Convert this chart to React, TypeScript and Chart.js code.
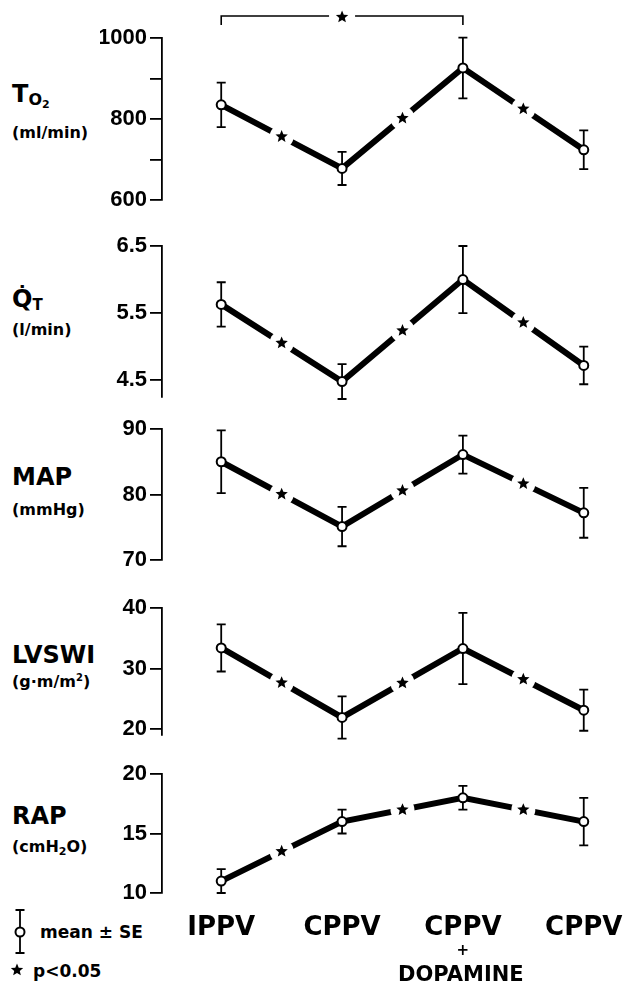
import React, { useEffect, useRef } from "react";
import { Chart, registerables } from "chart.js";

Chart.register(...registerables);

// ---------------- DATA ----------------
const categories = ["IPPV", "CPPV", "CPPV", "CPPV"];
const thirdCategoryExtra = ["+", "DOPAMINE"];

const to2Mean = [835, 678, 926, 724];
const to2SE = [55, 41, 75, 48];
const to2Range = [600, 1000];
const to2Ticks = [600, 700, 800, 900, 1000];
const to2TickLabels = ["600", "", "800", "", "1000"];
const to2Sig = [true, true, true];
const to2Bracket = [0, 2];

const qtMean = [5.63, 4.48, 6.0, 4.72];
const qtSE = [0.33, 0.26, 0.5, 0.28];
const qtRange = [4.25, 6.5];
const qtTicks = [4.5, 5.5, 6.5];
const qtTickLabels = ["4.5", "5.5", "6.5"];
const qtSig = [true, true, true];

const mapMean = [85.0, 75.1, 86.1, 77.2];
const mapSE = [4.8, 3.0, 2.9, 3.8];
const mapRange = [70, 90];
const mapTicks = [70, 80, 90];
const mapTickLabels = ["70", "80", "90"];
const mapSig = [true, true, true];

const lvswiMean = [33.4, 21.9, 33.3, 23.1];
const lvswiSE = [3.9, 3.5, 5.9, 3.4];
const lvswiRange = [19, 40];
const lvswiTicks = [20, 30, 40];
const lvswiTickLabels = ["20", "30", "40"];
const lvswiSig = [true, true, true];

const rapMean = [11.0, 16.0, 18.0, 16.0];
const rapSE = [1.0, 1.0, 1.0, 2.0];
const rapRange = [10, 20];
const rapTicks = [10, 15, 20];
const rapTickLabels = ["10", "15", "20"];
const rapSig = [true, true, true];

// ---------------- LAYOUT ----------------
const W = 627;
const H = 986;
const AXIS_X = 162;
const Y_AXIS_W = 62;
const X_MIN = -0.49;
const X_MAX = 3.3;
const RIGHT_PAD = W - 620;
const PAD = 30;
const LAST_PAD_TOP = 34;

const TEXT_FONT = "'DejaVu Sans', sans-serif";
const TICK_FONT = "'Liberation Sans', 'Arial', sans-serif";

type Panel = {
  mean: number[];
  se: number[];
  range: number[];
  ticks: number[];
  tickLabels: string[];
  sig: boolean[];
  bracket?: number[];
  top: number; // page px of axis max
  bottom: number; // page px of axis min
  last?: boolean;
};

const panels: Panel[] = [
  { mean: to2Mean, se: to2SE, range: to2Range, ticks: to2Ticks, tickLabels: to2TickLabels, sig: to2Sig, bracket: to2Bracket, top: 38, bottom: 200 },
  { mean: qtMean, se: qtSE, range: qtRange, ticks: qtTicks, tickLabels: qtTickLabels, sig: qtSig, top: 246, bottom: 397 },
  { mean: mapMean, se: mapSE, range: mapRange, ticks: mapTicks, tickLabels: mapTickLabels, sig: mapSig, top: 429, bottom: 560 },
  { mean: lvswiMean, se: lvswiSE, range: lvswiRange, ticks: lvswiTicks, tickLabels: lvswiTickLabels, sig: lvswiSig, top: 608, bottom: 735 },
  { mean: rapMean, se: rapSE, range: rapRange, ticks: rapTicks, tickLabels: rapTickLabels, sig: rapSig, top: 774, bottom: 893, last: true },
];

function drawStar(ctx: CanvasRenderingContext2D, cx: number, cy: number, R: number) {
  const r = R * 0.45;
  ctx.beginPath();
  for (let k = 0; k < 10; k++) {
    const ang = -Math.PI / 2 + (k * Math.PI) / 5;
    const rad = k % 2 === 0 ? R : r;
    const px = cx + rad * Math.cos(ang);
    const py = cy + rad * Math.sin(ang);
    if (k === 0) ctx.moveTo(px, py);
    else ctx.lineTo(px, py);
  }
  ctx.closePath();
  ctx.fill();
}

function PanelChart({ p }: { p: Panel }) {
  const ref = useRef<HTMLCanvasElement>(null);
  const canvasTop = p.top - (p.last ? LAST_PAD_TOP : PAD);
  const canvasH = p.last ? H - canvasTop : p.bottom - p.top + 2 * PAD;

  useEffect(() => {
    const deco = {
      id: "deco",
      beforeDatasetsDraw(chart: any) {
        const { ctx } = chart;
        const x = chart.scales.x;
        const y = chart.scales.y;
        ctx.save();
        ctx.strokeStyle = "#000";
        ctx.lineWidth = 1.8;
        p.mean.forEach((m, i) => {
          const px = x.getPixelForValue(i);
          const yt = y.getPixelForValue(m + p.se[i]);
          const yb = y.getPixelForValue(m - p.se[i]);
          ctx.beginPath();
          ctx.moveTo(px, yt);
          ctx.lineTo(px, yb);
          ctx.moveTo(px - 4.5, yt);
          ctx.lineTo(px + 4.5, yt);
          ctx.moveTo(px - 4.5, yb);
          ctx.lineTo(px + 4.5, yb);
          ctx.stroke();
        });
        ctx.restore();
      },
      afterDatasetsDraw(chart: any) {
        const { ctx } = chart;
        const x = chart.scales.x;
        const y = chart.scales.y;
        ctx.save();
        p.sig.forEach((s, i) => {
          if (!s) return;
          const cx = (x.getPixelForValue(i) + x.getPixelForValue(i + 1)) / 2;
          const cy = (y.getPixelForValue(p.mean[i]) + y.getPixelForValue(p.mean[i + 1])) / 2;
          ctx.fillStyle = "#fff";
          ctx.beginPath();
          ctx.arc(cx, cy, 12, 0, Math.PI * 2);
          ctx.fill();
          ctx.fillStyle = "#000";
          drawStar(ctx, cx, cy, 6.5);
        });
        if (p.bracket) {
          const x1 = x.getPixelForValue(p.bracket[0]);
          const x2 = x.getPixelForValue(p.bracket[1]);
          const yb = y.top - 22;
          ctx.strokeStyle = "#000";
          ctx.lineWidth = 1.6;
          ctx.beginPath();
          ctx.moveTo(x1, yb + 9);
          ctx.lineTo(x1, yb);
          ctx.lineTo(x2, yb);
          ctx.lineTo(x2, yb + 9);
          ctx.stroke();
          const cx = (x1 + x2) / 2;
          ctx.fillStyle = "#fff";
          ctx.fillRect(cx - 13, yb - 5, 26, 10);
          ctx.fillStyle = "#000";
          drawStar(ctx, cx, yb + 1, 6.5);
        }
        ctx.restore();
      },
      afterDraw(chart: any) {
        if (!p.last) return;
        const { ctx } = chart;
        const x = chart.scales.x;
        ctx.save();
        ctx.fillStyle = "#000";
        ctx.textAlign = "center";
        ctx.textBaseline = "middle";
        const cx = x.getPixelForValue(2);
        ctx.font = `bold 15px ${TEXT_FONT}`;
        ctx.fillText(thirdCategoryExtra[0], cx, 951 - canvasTop);
        ctx.textBaseline = "alphabetic";
        ctx.font = `bold 21px ${TEXT_FONT}`;
        ctx.fillText(thirdCategoryExtra[1], cx - 2, 981 - canvasTop);
        // legend symbols
        ctx.strokeStyle = "#000";
        ctx.lineWidth = 1.8;
        const lx = 20;
        const t = 910 - canvasTop;
        const b = 953 - canvasTop;
        const c = 932 - canvasTop;
        ctx.beginPath();
        ctx.moveTo(lx, t);
        ctx.lineTo(lx, b);
        ctx.moveTo(lx - 4.5, t);
        ctx.lineTo(lx + 4.5, t);
        ctx.moveTo(lx - 4.5, b);
        ctx.lineTo(lx + 4.5, b);
        ctx.stroke();
        ctx.fillStyle = "#fff";
        ctx.lineWidth = 2;
        ctx.beginPath();
        ctx.arc(lx, c, 4.5, 0, Math.PI * 2);
        ctx.fill();
        ctx.stroke();
        ctx.fillStyle = "#000";
        drawStar(ctx, 17, 970 - canvasTop, 6.5);
        ctx.restore();
      },
    };

    const chart = new Chart(ref.current as HTMLCanvasElement, {
      type: "line",
      data: {
        datasets: [
          {
            data: p.mean.map((v, i) => ({ x: i, y: v })),
            borderColor: "#000",
            borderWidth: 6,
            borderCapStyle: "butt",
            pointRadius: 4.5,
            pointBackgroundColor: "#fff",
            pointBorderColor: "#000",
            pointBorderWidth: 2,
            tension: 0,
            clip: false,
          } as any,
        ],
      },
      options: {
        animation: false,
        responsive: false,
        devicePixelRatio: 1,
        events: [],
        layout: {
          padding: {
            left: AXIS_X - Y_AXIS_W,
            right: RIGHT_PAD,
            top: p.last ? LAST_PAD_TOP : PAD,
            bottom: p.last ? 0 : PAD,
          },
        },
        plugins: { legend: { display: false }, tooltip: { enabled: false } },
        scales: {
          x: {
            type: "linear",
            min: X_MIN,
            max: X_MAX,
            display: !!p.last,
            afterBuildTicks: (s: any) => {
              s.ticks = categories.map((_, i) => ({ value: i }));
            },
            afterFit: (s: any) => {
              if (p.last) s.height = H - p.bottom;
              s.paddingLeft = 0;
              s.paddingRight = 0;
            },
            grid: { display: false, drawTicks: false },
            border: { display: false },
            ticks: {
              autoSkip: false,
              maxRotation: 0,
              padding: 20,
              color: "#000",
              font: { family: TEXT_FONT, size: 26, weight: "bold" },
              callback: (v: any) => categories[v] ?? "",
            },
          },
          y: {
            type: "linear",
            min: p.range[0],
            max: p.range[1],
            afterFit: (s: any) => {
              s.width = Y_AXIS_W;
            },
            afterBuildTicks: (s: any) => {
              s.ticks = p.ticks.map((v) => ({ value: v }));
            },
            grid: {
              drawOnChartArea: false,
              drawTicks: true,
              tickLength: 12,
              color: "#000",
              lineWidth: 1.8,
            },
            border: { display: true, color: "#000", width: 1.8 },
            ticks: {
              padding: 3,
              color: "#000",
              font: { family: TICK_FONT, size: 22, weight: "bold" },
              callback: (v: any) => {
                const i = p.ticks.indexOf(v);
                return i >= 0 ? p.tickLabels[i] : "";
              },
            },
          },
        },
      } as any,
      plugins: [deco],
    });
    return () => chart.destroy();
  }, []);

  return (
    <canvas
      ref={ref}
      width={W}
      height={canvasH}
      style={{ position: "absolute", left: 0, top: canvasTop, width: W, height: canvasH }}
    />
  );
}

function Label({ left, baseline, size, children }: { left: number; baseline: number; size: number; children: React.ReactNode }) {
  return (
    <div
      style={{
        position: "absolute",
        left,
        top: baseline - 0.846 * size,
        fontFamily: TEXT_FONT,
        fontWeight: "bold",
        fontSize: size,
        lineHeight: `${size}px`,
        whiteSpace: "nowrap",
        color: "#000",
      }}
    >
      {children}
    </div>
  );
}

const low = (size: number, dy: number, text: string) => (
  <span style={{ fontSize: size, position: "relative", top: dy }}>{text}</span>
);

export default function App() {
  return (
    <div style={{ position: "absolute", left: 0, top: 0, width: W, height: H, background: "#fff", overflow: "hidden" }}>
      <Label left={12} baseline={102} size={24}>
        T{low(16, 3, "O")}{low(11, 6, "2")}
      </Label>
      <Label left={12} baseline={139} size={16}>(ml/min)</Label>

      <Label left={12} baseline={307} size={24}>
        {"Q\u0307"}{low(15, 3, "T")}
      </Label>
      <Label left={12} baseline={336} size={16}>(l/min)</Label>

      <Label left={12} baseline={485} size={24}>MAP</Label>
      <Label left={12} baseline={516} size={16}>(mmHg)</Label>

      <Label left={12} baseline={663} size={24}>LVSWI</Label>
      <Label left={12} baseline={688} size={16}>
        (g·m/m{low(10, -6, "2")})
      </Label>

      <Label left={12} baseline={824} size={24}>RAP</Label>
      <Label left={12} baseline={853} size={16}>
        (cmH{low(11, 3, "2")}O)
      </Label>

      <Label left={40} baseline={938} size={17}>mean ± SE</Label>
      <Label left={33} baseline={977} size={17}>p&lt;0.05</Label>

      {panels.map((p, i) => (
        <PanelChart key={i} p={p} />
      ))}
    </div>
  );
}
